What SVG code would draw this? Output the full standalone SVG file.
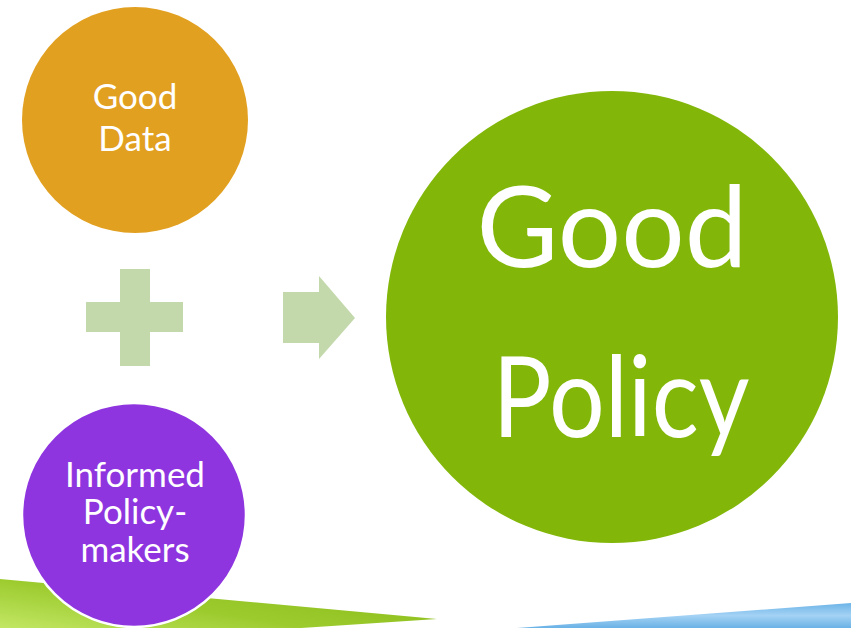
<svg xmlns="http://www.w3.org/2000/svg" width="851" height="628" viewBox="0 0 851 628">
<style>
.lbl{font-family:Lato,"Open Sans","Liberation Sans",sans-serif;fill:#ffffff;text-anchor:middle}
.shape{fill:#c3d9ab}
</style>
<defs>
<linearGradient id="gGreen" x1="0" y1="1" x2="1" y2="0">
<stop offset="0" stop-color="#d2f27a"/>
<stop offset="0.5" stop-color="#9ccb2e"/>
<stop offset="1" stop-color="#84b812"/>
</linearGradient>
<linearGradient id="gBlue" x1="0" y1="0" x2="0" y2="1">
<stop offset="0" stop-color="#6cb4e8"/>
<stop offset="0.5" stop-color="#a4d2f4"/>
<stop offset="1" stop-color="#6ab2e6"/>
</linearGradient>
</defs>
<rect width="851" height="628" fill="#ffffff"/>
<g id="decor">
<polygon points="0,579 437,619 0,648" fill="url(#gGreen)"/>
<polygon points="517,628 851,603 851,628" fill="url(#gBlue)"/>
</g>
<g id="connectors">
<path class="shape" d="M120,269 H150 V302 H183 V332 H150 V366 H120 V332 H86 V302 H120 Z"/>
<path class="shape" d="M283,292 H319 V276 L355,318 L319,359 V343 H283 Z"/>
</g>
<g id="good-data">
<circle cx="135" cy="120" r="113" fill="#e2a020"/>
<text class="lbl" font-size="35"><tspan x="135" y="109">Good</tspan><tspan x="135" y="151">Data</tspan></text>
</g>
<g id="informed-policymakers">
<circle cx="134" cy="515" r="112" fill="#8e35df" stroke="#ffffff" stroke-width="2.5"/>
<text class="lbl" font-size="35"><tspan x="135" y="487">Informed</tspan><tspan x="135" y="524">Policy-</tspan><tspan x="135" y="562">makers</tspan></text>
</g>
<g id="good-policy">
<circle cx="612" cy="317" r="226" fill="#82b70a"/>
<text class="lbl" font-size="112" x="612" y="267">Good</text>
<text class="lbl" font-size="112" x="621" y="437" textLength="257" lengthAdjust="spacingAndGlyphs">Policy</text>
</g>
</svg>
